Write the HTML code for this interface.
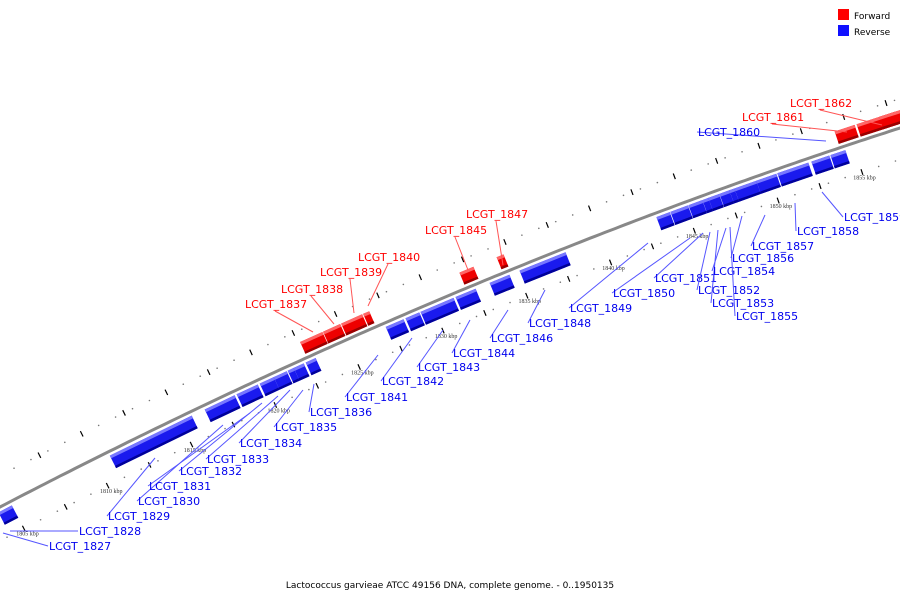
<!DOCTYPE html>
<html><head><meta charset="utf-8"><style>
body{margin:0;background:#fff;}
svg{display:block;font-family:"DejaVu Sans","Liberation Sans",sans-serif;}
</style></head><body>
<svg id="map" width="900" height="600" viewBox="0 0 900 600">
<rect x="838" y="9" width="11" height="11" fill="#ff0000"/>
<text x="854" y="19" font-size="9" fill="#000">Forward</text>
<rect x="838" y="25" width="11" height="11" fill="#1010ff"/>
<text x="854" y="35" font-size="9" fill="#000">Reverse</text>
<text x="450" y="588" font-size="9" text-anchor="middle" fill="#000">Lactococcus garvieae ATCC 49156 DNA, complete genome. - 0..1950135</text>
<g id="layer"></g>
</svg>
<script>
const geneNames=["LCGT_1827","LCGT_1829","LCGT_1830","LCGT_1831","LCGT_1832","LCGT_1833","LCGT_1834","LCGT_1835","LCGT_1836","LCGT_1837","LCGT_1838","LCGT_1839","LCGT_1840","LCGT_1841","LCGT_1842","LCGT_1843","LCGT_1844","LCGT_1845","LCGT_1846","LCGT_1847","LCGT_1848","LCGT_1849","LCGT_1850","LCGT_1851","LCGT_1852","LCGT_1853","LCGT_1854","LCGT_1855","LCGT_1856","LCGT_1857","LCGT_1858","LCGT_1859","LCGT_1860","LCGT_1861","LCGT_1862","LCGT_1863"];
const geneStart=[1804.2,1810.82,1816.45,1818.35,1819.72,1820.55,1821.38,1821.74,1822.45,1822.63,1823.99,1825.06,1826.36,1827.20,1828.38,1829.27,1831.35,1832.06,1833.37,1834.26,1835.15,1843.28,1844.11,1845.18,1846.01,1846.36,1847.02,1847.61,1847.91,1849.21,1850.46,1852.48,1853.61,1854.26,1855.56,1856.9];
const geneEnd=[1805.0,1815.68,1818.23,1819.60,1820.55,1821.32,1821.74,1822.33,1823.04,1823.95,1825.0,1826.3,1826.72,1828.26,1829.20,1831.23,1832.54,1832.89,1834.55,1834.67,1837.88,1844.07,1845.15,1846.0,1846.36,1847.0,1847.61,1847.91,1849.21,1850.40,1852.30,1853.55,1854.50,1855.44,1857.82,1858.5];
const geneStrand=[-1,-1,-1,-1,-1,-1,-1,-1,-1,1,1,1,1,-1,-1,-1,-1,1,-1,1,-1,-1,-1,-1,-1,-1,-1,-1,-1,-1,-1,-1,-1,1,1,1];
const labelNames=["LCGT_1827","LCGT_1828","LCGT_1829","LCGT_1830","LCGT_1831","LCGT_1832","LCGT_1833","LCGT_1834","LCGT_1835","LCGT_1836","LCGT_1841","LCGT_1842","LCGT_1843","LCGT_1844","LCGT_1846","LCGT_1848","LCGT_1849","LCGT_1850","LCGT_1851","LCGT_1852","LCGT_1853","LCGT_1854","LCGT_1855","LCGT_1856","LCGT_1857","LCGT_1858","LCGT_1859","LCGT_1860","LCGT_1861","LCGT_1862","LCGT_1837","LCGT_1838","LCGT_1839","LCGT_1840","LCGT_1845","LCGT_1847"];
const labelX=[49,79,108,138,149,180,207,240,275,310,346,382,418,453,491,529,570,613,655,698,712,713,736,732,752,797,844,698,742,790,245,281,320,358,425,466];
const labelY=[550,535,520,505,490,475,463,447,431,416,401,385,371,357,342,327,312,297,282,294,307,275,320,262,250,235,221,136,121,107,308,293,276,261,234,218];
const labelTx=[3,10,155,223,250,262,278,290,303,314,378,412,443,470,508,545,648,690,703,710,718,726,730,742,765,795,822,826,847,882,313,334,354,368,468,503];
const labelTy=[533,531,458,425,413,403,396,390,390,384,355,338,330,320,310,290,243,238,233,232,230,228,227,216,215,203,192,141,132,125,332,324,313,306,270,265];
const labelStrand=[-1,-1,-1,-1,-1,-1,-1,-1,-1,-1,-1,-1,-1,-1,-1,-1,-1,-1,-1,-1,-1,-1,-1,-1,-1,-1,-1,-1,1,1,1,1,1,1,1,1];
const tickLabels=[1805,1810,1815,1820,1825,1830,1835,1840,1845,1850,1855];

const NS="http://www.w3.org/2000/svg";
const layer=document.getElementById('layer');
function kx(k){return 10+(k-1805)*16.85;}
function cy(x){return 507-0.521*x+0.000111*x*x;}
function slope(x){return -0.521+0.000222*x;}
function pt(k,off){const x=kx(k),s=slope(x),L=Math.hypot(1,s);return [x+(-s/L)*off, cy(x)+(1/L)*off];}
function mk(tag,attrs){const e=document.createElementNS(NS,tag);for(const a in attrs)e.setAttribute(a,attrs[a]);return e;}
function poly(pts){return pts.map(p=>p[0].toFixed(1)+','+p[1].toFixed(1)).join(' ');}

// backbone
let d='';for(let x=-5;x<=905;x+=5){d+=(x===-5?'M':'L')+x+','+cy(x).toFixed(1);}
const bb=mk('path',{d:d,stroke:'#888',fill:'none','stroke-width':3});


layer.appendChild(bb);

// ticks
for(let k=1803;k<=1859;k+=0.5){
  [-28,30].forEach(off=>{
    const major=Math.abs(k*2%5)<0.01;
    const p=pt(k,off);
    if(major){
      const a=pt(k,off-3),b=pt(k,off+3);
      const t=mk('line',{x1:a[0],y1:a[1],x2:b[0],y2:b[1],stroke:'#000','stroke-width':1.2});
      
      
      layer.appendChild(t);
    } else if(Math.abs(k%1)<0.01){
      const c=mk('circle',{cx:p[0],cy:p[1],r:0.8,fill:'#777'});
      
      
      layer.appendChild(c);
    }
  });
}
tickLabels.forEach(k=>{
  const p=pt(k,38);
  const t=mk('text',{x:p[0],y:p[1],'font-size':6,'font-family':'Liberation Serif,serif','text-anchor':'middle',fill:'#333'});
  t.textContent=k+' kbp';
  
  
  layer.appendChild(t);
});

// genes
geneStart.forEach((s,i)=>{
  const e=geneEnd[i],st=geneStrand[i];
  const o1=st>0?-17:4,o2=st>0?-4:18;
  const main=st>0?'#ee0000':'#1a1aee',light=st>0?'#ff6666':'#7777ff',dark=st>0?'#990000':'#000099';
  const g=mk('g',{});
  
  
  g.appendChild(mk('polygon',{points:poly([pt(s,o1),pt(e,o1),pt(e,o2),pt(s,o2)]),fill:main}));
  g.appendChild(mk('polygon',{points:poly([pt(s,o1),pt(e,o1),pt(e,o1+3),pt(s,o1+3)]),fill:light}));
  g.appendChild(mk('polygon',{points:poly([pt(s,o2-2.5),pt(e,o2-2.5),pt(e,o2),pt(s,o2)]),fill:dark}));
  layer.appendChild(g);
});

// labels
labelNames.forEach((n,i)=>{
  const col=labelStrand[i]>0?'#ff0000':'#0000ee';
  const lc=labelStrand[i]>0?'#ff5555':'#5555ff';
  const ly=labelY[i]-4;
  const ln=mk('line',{x1:labelStrand[i]>0?labelX[i]+55:labelX[i]-1,y1:labelStrand[i]>0?ly-6:ly,x2:labelTx[i],y2:labelTy[i],stroke:lc,'stroke-width':1});
  if(labelStrand[i]>0){ln.setAttribute('x1',labelX[i]+30);ln.setAttribute('y1',labelY[i]+3);}
  
  
  layer.appendChild(ln);
  const t=mk('text',{x:labelX[i],y:labelY[i],'font-size':11,fill:col});
  t.textContent=n;
  
  
  layer.appendChild(t);
});
</script>
</body></html>
